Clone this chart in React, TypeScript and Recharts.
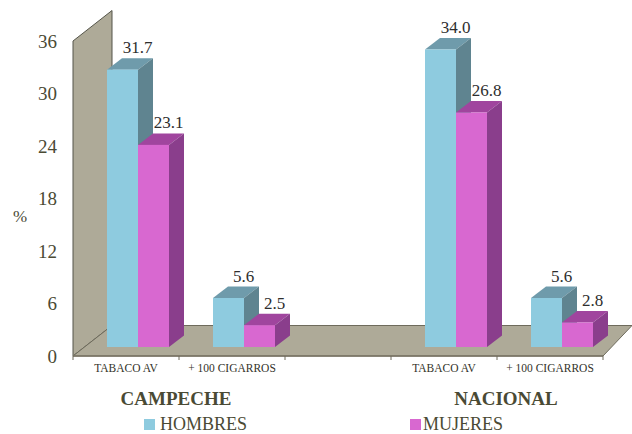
import React from "react";
import { BarChart, Bar, XAxis, YAxis, LabelList, Legend, Customized, usePlotArea } from "recharts";

const categories = ["TABACO AV", "+ 100 CIGARROS", " ", "TABACO AV ", "+ 100 CIGARROS "];
const hombres: (number | null)[] = [31.7, 5.6, null, 34.0, 5.6];
const mujeres: (number | null)[] = [23.1, 2.5, null, 26.8, 2.8];
const yTicks = [0, 6, 12, 18, 24, 30, 36];
const data = categories.map((name, i) => ({ name, HOMBRES: hombres[i], MUJERES: mujeres[i] }));

const FONT = "'Liberation Serif', serif";
const INK = "#4a4a34";
const WALL = "#aeaa98";
const BAR_DX = 11.5;
const BAR_DY = -9;
const DEPTH_X = 15;
const DEPTH_Y = -11.5;

const Backdrop = () => {
  const p = usePlotArea();
  if (!p) return null;
  const l = p.x, r = p.x + p.width, t = p.y, b = p.y + p.height;
  const dx = 39, dy = -30.5;
  const wr = r + 29;
  return (
    <g>
      <polygon points={`${l},${b} ${l},${t} ${l + dx},${t + dy} ${l + dx},${b + dy}`} fill={WALL} stroke="#55554a" strokeWidth={1} />
      <polygon points={`${l},${b} ${l + dx},${b + dy} ${wr},${b + dy} ${r},${b}`} fill={WALL} stroke="#6e6b5c" strokeWidth={1} />
      <line x1={l} y1={b} x2={r} y2={b} stroke="#7a7566" strokeWidth={1.5} />
      <text x={l + 103} y={b + 49} textAnchor="middle" fontFamily={FONT} fontSize={19} fontWeight="bold" fill={INK}>CAMPECHE</text>
      <text x={l + 433} y={b + 49} textAnchor="middle" fontFamily={FONT} fontSize={19} fontWeight="bold" fill={INK}>NACIONAL</text>
      <text x={20} y={222} textAnchor="middle" fontFamily={FONT} fontSize={17} fill={INK}>%</text>
    </g>
  );
};

const Bar3D = (fill: string, top: string, side: string) => (props: any) => {
  const { x, y, width, height } = props;
  if (!height) return <g />;
  const fx = x + BAR_DX, fy = y + BAR_DY, w = width, h = height;
  return (
    <g>
      <polygon points={`${fx},${fy} ${fx + w},${fy} ${fx + w + DEPTH_X},${fy + DEPTH_Y} ${fx + DEPTH_X},${fy + DEPTH_Y}`} fill={top} />
      <polygon points={`${fx + w},${fy} ${fx + w + DEPTH_X},${fy + DEPTH_Y} ${fx + w + DEPTH_X},${fy + h + DEPTH_Y} ${fx + w},${fy + h}`} fill={side} />
      <rect x={fx} y={fy} width={w} height={h} fill={fill} />
    </g>
  );
};

const ValueLabel = (props: any) => {
  const { x, y, width, value } = props;
  if (value == null) return null;
  return (
    <text x={x + width / 2 + BAR_DX + DEPTH_X} y={y + BAR_DY - 16.5} textAnchor="middle" fontFamily={FONT} fontSize={17} fill="#2e2e2e">
      {Number(value).toFixed(1)}
    </text>
  );
};

const XTick = (props: any) => {
  const { x, y, payload, index } = props;
  const half = 53;
  return (
    <g>
      <line x1={x - half} y1={y - 8} x2={x - half} y2={y - 4} stroke="#6e6b5c" />
      {index === categories.length - 1 && <line x1={x + half} y1={y - 8} x2={x + half} y2={y - 4} stroke="#6e6b5c" />}
      <text x={x} y={y + 8} textAnchor="middle" fontFamily={FONT} fontSize={11.5} fill="#33332a">
        {String(payload.value).trim()}
      </text>
    </g>
  );
};

const LegendBox = (props: any) => {
  const items = props.payload || [];
  const lefts = [144, 410];
  return (
    <div style={{ position: "relative", height: 20 }}>
      {items.map((it: any, i: number) => (
        <div key={i} style={{ position: "absolute", left: lefts[i], top: 0, display: "flex", alignItems: "center", fontFamily: FONT, fontSize: 18, color: INK, lineHeight: "20px" }}>
          <span style={{ width: 11, height: 11, background: it.color, marginRight: i === 0 ? 5 : 2, display: "inline-block" }} />
          {it.value}
        </div>
      ))}
    </div>
  );
};

export default function App() {
  return (
    <div style={{ position: "absolute", left: 0, top: 0, width: 632, height: 434, background: "#fff" }}>
      <BarChart
        width={632}
        height={434}
        data={data}
        margin={{ top: 41, right: 29, bottom: 0, left: 0 }}
        barCategoryGap={22.5}
        barGap={0}
      >
        <Customized component={Backdrop} />
        <XAxis dataKey="name" height={58} axisLine={false} tickLine={false} interval={0} tick={XTick} />
        <YAxis
          width={73}
          domain={[0, 36]}
          ticks={yTicks}
          axisLine={false}
          tickLine={false}
          tickSize={0}
          tickMargin={16}
          tick={{ fontFamily: FONT, fontSize: 19, fill: INK }}
        />
        <Legend verticalAlign="bottom" content={LegendBox} wrapperStyle={{ left: 0, top: 414, width: 632 }} />
        <Bar dataKey="HOMBRES" fill="#8ecbdf" isAnimationActive={false} shape={Bar3D("#8ecbdf", "#6f9bab", "#5f8490")}>
          <LabelList dataKey="HOMBRES" content={ValueLabel} />
        </Bar>
        <Bar dataKey="MUJERES" fill="#d868d0" isAnimationActive={false} shape={Bar3D("#d868d0", "#a0459e", "#8a3e8c")}>
          <LabelList dataKey="MUJERES" content={ValueLabel} />
        </Bar>
      </BarChart>
    </div>
  );
}
